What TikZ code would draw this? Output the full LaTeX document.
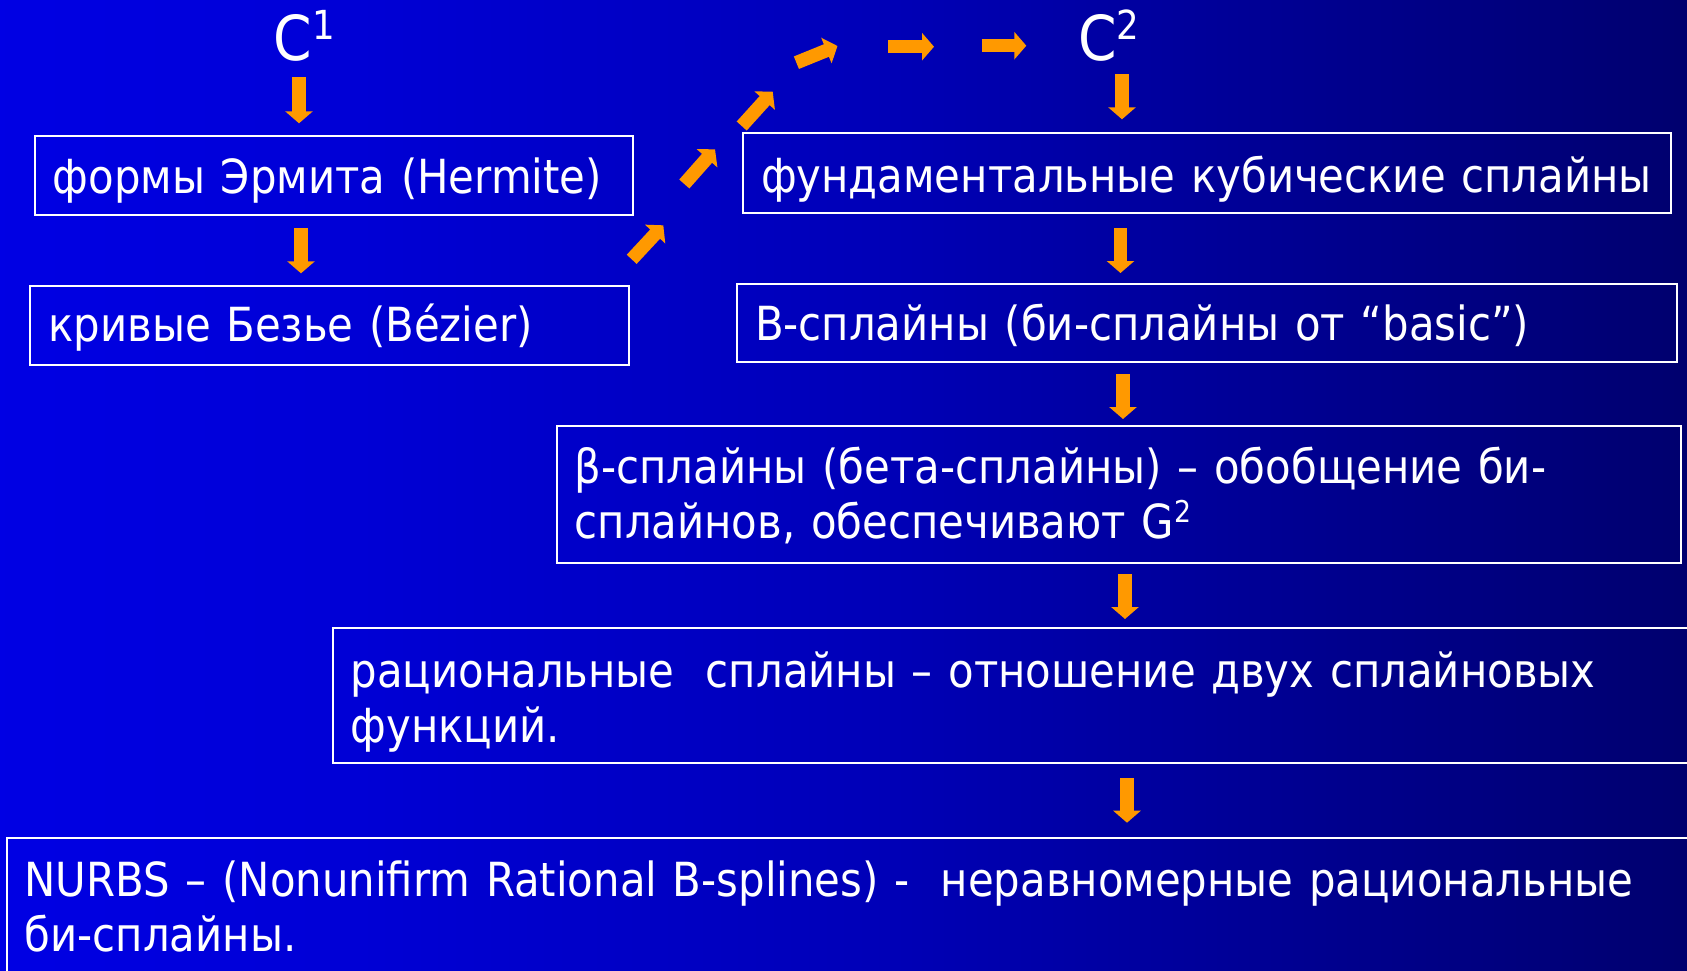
\documentclass[tikz,border=0pt]{standalone}
\usepackage{fontspec}
\setmainfont{DejaVu Sans}[FakeStretch=0.89]
\usetikzlibrary{arrows.meta}
\definecolor{arrorange}{RGB}{255,153,0}
\pgfdeclarehorizontalshading{bgshade}{100bp}{rgb(0bp)=(0,0,0.94); rgb(18bp)=(0,0,0.93); rgb(35bp)=(0,0,0.84); rgb(51bp)=(0,0,0.72); rgb(65bp)=(0,0,0.55); rgb(88bp)=(0,0,0.28); rgb(100bp)=(0,0,0.05)}
\newcommand{\boxfont}{\fontsize{47}{55}\selectfont}
\newcommand{\cfont}{\fontsize{62}{62}\selectfont}
\newcommand{\supnum}[2]{\raisebox{#1}{\fontsize{40}{40}\selectfont #2}}
\tikzset{
  box/.style={draw=white, line width=2pt, text=white, anchor=north west,
    align=left, inner xsep=18pt, inner ysep=0pt, outer sep=0pt, font=\boxfont},
  clabel/.style={text=white, anchor=base west, inner sep=0pt, font=\cfont},
  oarr/.style={draw=arrorange, line width=13.5pt, -{Triangle[width=27pt,length=12pt]}}
}
\begin{document}
\begin{tikzpicture}[x=1pt,y=-1pt]
\useasboundingbox (0,0) rectangle (1687,970);
\shade[shading=bgshade] (0,0) rectangle (1687,970);
\begin{scope}
\clip (0,0) rectangle (1687,970);
% labels
\node[clabel] (c1) at (273.5,60.5) {C\supnum{21pt}{1}};
\node[clabel] (c2) at (1078,60.5) {C\supnum{21pt}{2}};
% boxes
\node[box, text width=562pt, text height=57.8pt, text depth=21.7pt] (hermite) at (34.8,135.5) {формы Эрмита (Hermite)};
\node[box, text width=563pt, text height=56pt, text depth=23.3pt] (bezier) at (30.4,285.7) {кривые Безье (Bézier)};
\node[box, text width=892pt, text height=59.3pt, text depth=21pt] (fund) at (743,132.7) {фундаментальные кубические сплайны};
\node[box, text width=904pt, text height=56pt, text depth=22pt] (bspl) at (737,284) {B-сплайны (би-сплайны от “basic”)};
\node[box, text width=1088pt, text height=57.3pt, text depth=79.7pt] (beta) at (556.7,425.7) {β-сплайны (бета-сплайны) – обобщение би-\\сплайнов, обеспечивают G\supnum{16pt}{\fontsize{30}{30}\selectfont 2}};
\node[box, text width=1360pt, text height=59pt, text depth=76pt] (rat) at (332.7,628) {рациональные~ сплайны – отношение двух сплайновых\\функций.};
\node[box, text width=1700pt, text height=58.3pt, text depth=120pt] (nurbs) at (6.7,837.7) {NURBS – (Nonunifirm Rational B-splines) -~ неравномерные рациональные\\би-сплайны.};
\end{scope}
% arrow end points
\coordinate (a1s) at (299,77); \coordinate (a1e) at (299,123.3);
\coordinate (a2s) at (301,228.3); \coordinate (a2e) at (301,273.3);
\coordinate (a3s) at (1122,74); \coordinate (a3e) at (1122,119.3);
\coordinate (a4s) at (1120.5,228); \coordinate (a4e) at (1120.5,273);
\coordinate (a5s) at (1123,374); \coordinate (a5e) at (1123,419);
\coordinate (a6s) at (1125,574); \coordinate (a6e) at (1125,619);
\coordinate (a7s) at (1127,778); \coordinate (a7e) at (1127,822.7);
\coordinate (d1s) at (631.7,259.3); \coordinate (d1e) at (663.3,225.3);
\coordinate (d2s) at (684.3,184); \coordinate (d2e) at (715,149.3);
\coordinate (d3s) at (741.7,126); \coordinate (d3e) at (772.7,91.7);
\coordinate (d4s) at (796.4,62.7); \coordinate (d4e) at (837.5,46);
\coordinate (d5s) at (888,46.7); \coordinate (d5e) at (934,46.7);
\coordinate (d6s) at (981.7,45.7); \coordinate (d6e) at (1026.3,45.7);
% arrows
\draw[oarr] (a1s) -- (a1e);
\draw[oarr] (a2s) -- (a2e);
\draw[oarr] (a3s) -- (a3e);
\draw[oarr] (a4s) -- (a4e);
\draw[oarr] (a5s) -- (a5e);
\draw[oarr] (a6s) -- (a6e);
\draw[oarr] (a7s) -- (a7e);
\draw[oarr] (d1s) -- (d1e);
\draw[oarr] (d2s) -- (d2e);
\draw[oarr] (d3s) -- (d3e);
\draw[oarr] (d4s) -- (d4e);
\draw[oarr] (d5s) -- (d5e);
\draw[oarr] (d6s) -- (d6e);
\end{tikzpicture}
\end{document}
